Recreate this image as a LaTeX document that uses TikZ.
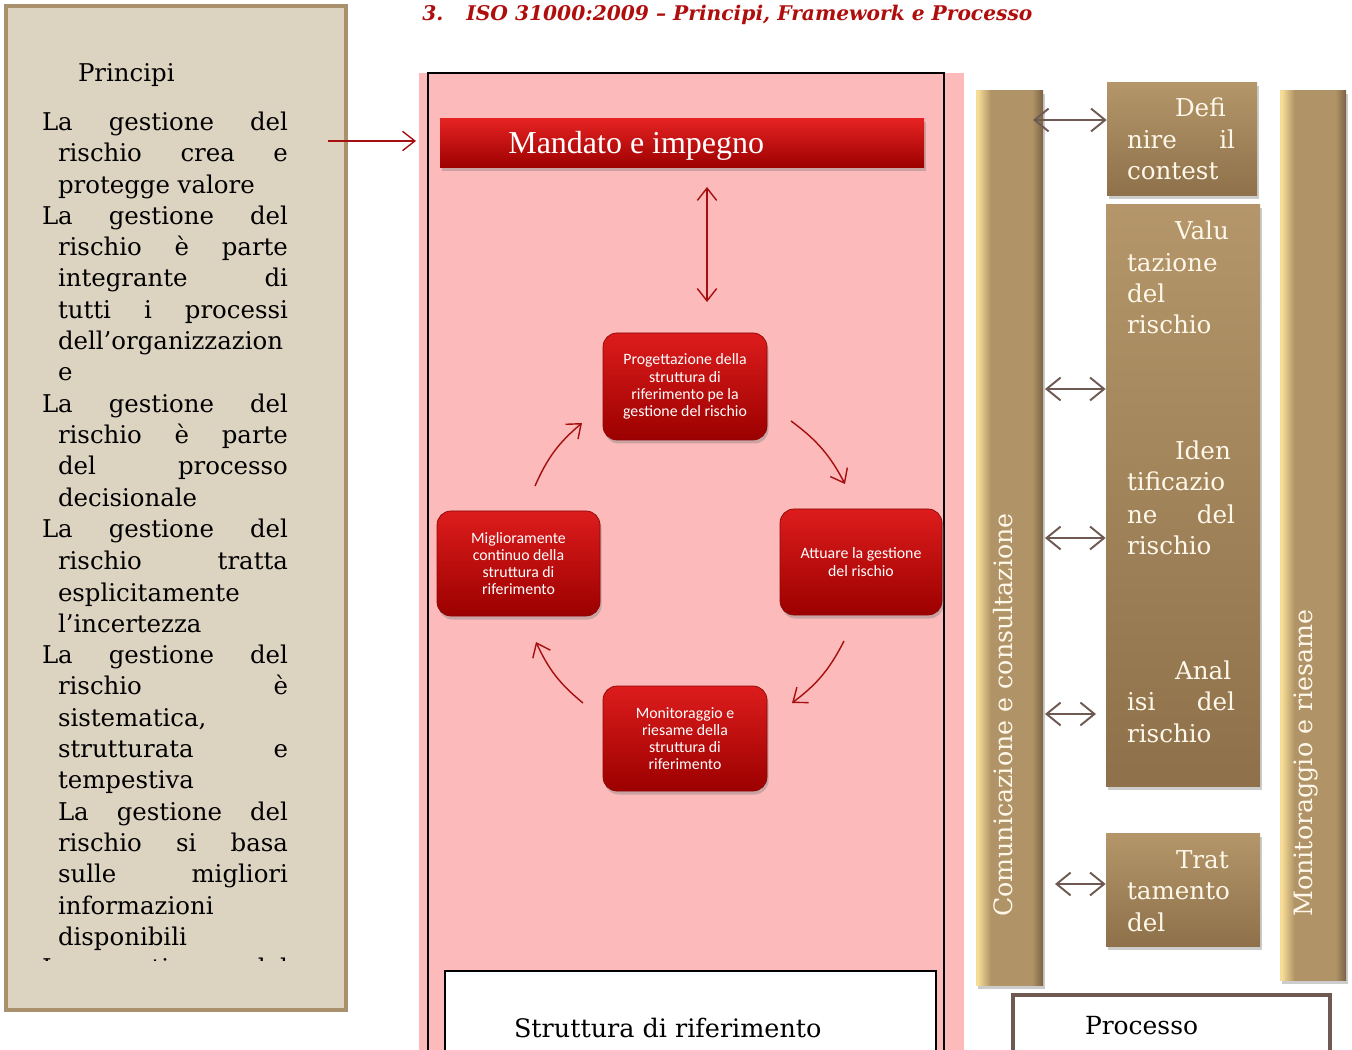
\documentclass[tikz,border=0pt]{standalone}
\usepackage{fontspec}
\setmainfont{DejaVu Serif}
\newfontfamily\timesf{Liberation Serif}
\newfontfamily\calib{Carlito}
\usetikzlibrary{arrows.meta,shadows,fit,calc}
\definecolor{pinkbg}{HTML}{FDBABA}
\definecolor{beige}{HTML}{DDD3C1}
\definecolor{beigeb}{HTML}{A8916C}
\definecolor{darkred}{HTML}{A50F0F}
\definecolor{titlered}{HTML}{B00D0D}
\definecolor{tanarr}{HTML}{6E5A52}
\definecolor{cream}{HTML}{FFF8EA}
\definecolor{redtop}{HTML}{DD1C1C}
\definecolor{redbot}{HTML}{9C0000}
\definecolor{mandtop}{HTML}{E52222}
\definecolor{boxedge}{HTML}{8A0808}
\definecolor{tanL}{HTML}{F6DC96}
\definecolor{tanM}{HTML}{B09366}
\definecolor{tanR}{HTML}{7A6244}
\definecolor{tantop}{HTML}{B4966A}
\definecolor{tanbot}{HTML}{8E714A}
\pgfdeclarehorizontalshading{barshade}{100bp}{color(0bp)=(tanL); color(25bp)=(tanL); color(26.5bp)=(tanL); color(36bp)=(tanM); color(67bp)=(tanM); color(75bp)=(tanR); color(100bp)=(tanR)}
\newcommand\pfirst[3]{\node[lt] (#1) at (42,#2) {\makebox[4.92cm][s]{#3}};}
\newcommand\pjust[3]{\node[lt] (#1) at (58,#2) {\makebox[4.60cm][s]{#3}};}
\newcommand\pplain[3]{\node[lt] (#1) at (58,#2) {#3};}
\newcommand\tline[4]{\node[tt] (#1) at (#2,#3) {#4};}
\newcommand\tjust[3]{\node[tt] (#1) at (1127,#2) {\makebox[2.16cm][s]{#3}};}
\begin{document}
\begin{tikzpicture}[x=0.02cm, y=-0.02cm,
  lt/.style={anchor=base west, inner sep=0pt, outer sep=0pt, font=\fontsize{13.9}{16}\selectfont},
  tt/.style={lt, text=cream, font=\fontsize{14}{16}\selectfont},
  rot/.style={rotate=90, inner sep=0pt, text=cream, font=\fontsize{14.4}{16}\selectfont},
  shad/.style={drop shadow={shadow xshift=0.03cm, shadow yshift=-0.07cm, opacity=0.4}},
  redbox/.style={draw=boxedge, line width=0.4pt, rounded corners=0.28cm, top color=redtop, bottom color=redbot, shad, inner sep=0pt},
  redtext/.style={inner sep=0pt, align=center, text=white, font=\calib\fontsize{9}{9.8}\selectfont},
  tanbox/.style={top color=tantop, bottom color=tanbot, inner sep=0pt, shad},
  tanbar/.style={shading=barshade, shading angle=0, inner sep=0pt, shad},
  redarr/.style={draw=darkred, line width=0.8pt, -{Straight Barb[length=7pt,width=11pt]}},
  dredarr/.style={draw=darkred, line width=0.8pt, {Straight Barb[length=7pt,width=11pt]}-{Straight Barb[length=7pt,width=11pt]}},
  tanarrow/.style={draw=tanarr, line width=1.1pt, {Straight Barb[length=8pt,width=13pt]}-{Straight Barb[length=8pt,width=13pt]}},
]
\useasboundingbox (0,0) rectangle (1352,1050);
\fill[white] (0,0) rectangle (1352,1050);

% title
\node[anchor=base west, inner sep=0pt, text=titlered, font=\bfseries\itshape\fontsize{11.5}{13}\selectfont] (num) at (422,21) {3.};
\node[anchor=base west, inner sep=0pt, text=titlered, font=\bfseries\itshape\fontsize{11.5}{13}\selectfont] (iso) at (466,21) {ISO 31000:2009 -- Principi, Framework e Processo};

% left box
\node[fit={(6,6) (346,1010)}, inner sep=0pt, fill=beige, draw=beigeb, line width=2.2pt] (princbox) {};
\node[lt] (princ) at (78,82) {Principi};
\pfirst{p1}{131}{La gestione del}
\pjust{p2}{162}{rischio crea e}
\pplain{p3}{194}{protegge valore}
\pfirst{p4}{225}{La gestione del}
\pjust{p5}{256}{rischio è parte}
\pjust{p6}{287}{integrante di}
\pjust{p7}{319}{tutti i processi}
\pplain{p8}{350}{dell’organizzazion}
\pplain{p9}{381}{e}
\pfirst{p10}{413}{La gestione del}
\pjust{p11}{444}{rischio è parte}
\pjust{p12}{475}{del processo}
\pplain{p13}{507}{decisionale}
\pfirst{p14}{538}{La gestione del}
\pjust{p15}{569}{rischio tratta}
\pplain{p16}{601}{esplicitamente}
\pplain{p17}{632}{l’incertezza}
\pfirst{p18}{663}{La gestione del}
\pjust{p19}{694}{rischio è}
\pplain{p20}{726}{sistematica,}
\pjust{p21}{757}{strutturata e}
\pplain{p22}{788}{tempestiva}
\pjust{p23}{820}{La gestione del}
\pjust{p24}{851}{rischio si basa}
\pjust{p25}{882}{sulle migliori}
\pplain{p26}{914}{informazioni}
\pplain{p27}{945}{disponibili}
\begin{scope}
\clip (0,0) rectangle (346,960);
\pfirst{p28}{976}{La gestione del}
\end{scope}

% framework area
\fill[pinkbg] (419,73) rectangle (964,1050);
\node[fit={(428,73) (944,1070)}, inner sep=0pt, draw=black, line width=0.8pt] (frame) {};
\node[fit={(440,119) (924,168)}, inner sep=0pt, top color=mandtop, bottom color=redbot, shad] (mand) {};
\node[anchor=base west, inner sep=0pt, text=white, font=\timesf\fontsize{18.2}{20}\selectfont] (mandt) at (508,154) {Mandato e impegno};

\node[redbox, fit={(603,333) (767,440)}] (prog) {};
\node[redbox, fit={(780,509) (942,615)}] (att) {};
\node[redbox, fit={(603,686) (767,791)}] (mon) {};
\node[redbox, fit={(437,511) (600,616)}] (mig) {};
\node[redtext] (progt) at (prog.center) {Progettazione della\\struttura di\\riferimento pe la\\gestione del rischio};
\node[redtext] (attt) at (att.center) {Attuare la gestione\\del rischio};
\node[redtext] (mont) at (mon.center) {Monitoraggio e\\riesame della\\struttura di\\riferimento};
\node[redtext] (migt) at (mig.center) {Miglioramente\\continuo della\\struttura di\\riferimento};

\node[fit={(445,971) (936,1070)}, inner sep=0pt, fill=white, draw=black, line width=0.8pt] (strut) {};
\node[lt, font=\fontsize{14.5}{17}\selectfont] (strutt) at (514,1037) {Struttura di riferimento};

% arrows framework
\coordinate (pa) at (328,141);
\coordinate (pe) at (416,141);
\draw[redarr] (pa) -- (pe);
\coordinate (va) at (707,187);
\coordinate (vb) at (707,302);
\draw[dredarr] (va) -- (vb);
\coordinate (c1s) at (535,486); \coordinate (c1e) at (582,423);
\coordinate (c2s) at (791,421); \coordinate (c2e) at (845,484);
\coordinate (c3s) at (844,641); \coordinate (c3e) at (792,703);
\coordinate (c4s) at (583,703); \coordinate (c4e) at (536,642);
\draw[redarr] (c1s) to[bend left=13] (c1e);
\draw[redarr] (c2s) to[bend left=13] (c2e);
\draw[redarr] (c3s) to[bend left=13] (c3e);
\draw[redarr] (c4s) to[bend left=13] (c4e);

% process
\node[tanbar, fit={(976,91) (1043,985)}] (comm) {};
\node[tanbar, fit={(1280,91) (1346,980)}] (moni) {};
\node[rot] (commt) at (1003,715) {Comunicazione e consultazione};
\node[rot] (monit) at (1306,763) {Monitoraggio e riesame};

\node[tanbox, fit={(1107,83) (1257,196)}] (defn) {};
\node[tanbox, fit={(1106,205) (1260,786)}] (valu) {};
\node[tanbox, fit={(1106,833) (1260,946)}] (trat) {};

\tline{d1}{1175}{117}{Defi}
\tjust{d2}{149}{nire il}
\tline{d3}{1127}{180}{contest}
\tline{v1}{1175}{240}{Valu}
\tline{v2}{1127}{272}{tazione}
\tline{v3}{1127}{303}{del}
\tline{v4}{1127}{334}{rischio}
\tline{i1}{1175}{460}{Iden}
\tline{i2}{1127}{491}{tificazio}
\tjust{i3}{523}{ne del}
\tline{i4}{1127}{554}{rischio}
\tline{a1}{1175}{679}{Anal}
\tjust{a2}{710}{isi del}
\tline{a3}{1127}{742}{rischio}
\tline{t1}{1176}{868}{Trat}
\tline{t2}{1127}{899}{tamento}
\tline{t3}{1127}{931}{del}

\coordinate (a1s) at (1033,120);
\coordinate (a2s) at (1045,389);
\coordinate (a3s) at (1045,538);
\coordinate (a4s) at (1045,714);
\coordinate (a4e) at (1096,714);
\coordinate (a5s) at (1055,884);
\draw[tanarrow] (a1s) -- (a1s -| defn.west);
\draw[tanarrow] (a2s) -- (a2s -| valu.west);
\draw[tanarrow] (a3s) -- (a3s -| valu.west);
\draw[tanarrow] (a4s) -- (a4e);
\draw[tanarrow] (a5s) -- (a5s -| trat.west);

\node[fit={(1013,995) (1330,1070)}, inner sep=0pt, fill=white, draw=tanarr, line width=2.2pt] (proc) {};
\node[lt, font=\fontsize{14.2}{17}\selectfont] (proct) at (1085,1034) {Processo};
\end{tikzpicture}
\end{document}
